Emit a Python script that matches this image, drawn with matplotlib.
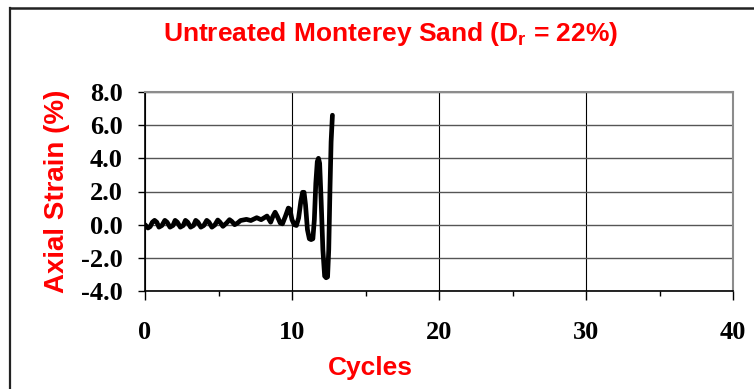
import matplotlib
matplotlib.use("Agg")
import matplotlib.pyplot as plt
from matplotlib.lines import Line2D
from matplotlib.ticker import MultipleLocator, FormatStrFormatter

cycles = [0.0, 0.2, 0.35, 0.5, 0.65, 0.8, 0.95, 1.15, 1.35, 1.5, 1.7, 1.9, 2.05, 2.2,
          2.4, 2.6, 2.75, 2.9, 3.1, 3.3, 3.45, 3.6, 3.8, 4.0, 4.2, 4.35, 4.55, 4.75,
          4.95, 5.1, 5.3, 5.55, 5.75, 5.9, 6.1, 6.3, 6.5, 6.9, 7.2, 7.6, 7.9, 8.3,
          8.55, 8.7, 8.85, 9.0, 9.2, 9.35, 9.55, 9.75, 9.85, 10.0, 10.15, 10.3, 10.45,
          10.6, 10.72, 10.82, 10.92, 11.05, 11.18, 11.3, 11.42, 11.52, 11.62, 11.72,
          11.8, 11.88, 11.98, 12.1, 12.22, 12.32, 12.42, 12.5, 12.58, 12.66, 12.75]
strain = [0.0, -0.2, -0.12, 0.15, 0.26, 0.15, -0.15, -0.05, 0.26, 0.15, -0.15, -0.05,
          0.26, 0.15, -0.15, -0.05, 0.26, 0.15, -0.15, -0.05, 0.26, 0.15, -0.15, -0.05,
          0.26, 0.15, -0.15, -0.02, 0.28, 0.15, -0.1, 0.1, 0.3, 0.2, 0.0, 0.1, 0.25,
          0.32, 0.25, 0.42, 0.3, 0.52, 0.15, 0.5, 0.75, 0.5, 0.1, 0.05, 0.5, 1.0, 0.95,
          0.3, 0.0, -0.05, 0.4, 1.4, 1.95, 1.95, 1.2, -0.3, -0.85, -0.9, -0.85, 0.3,
          2.5, 3.8, 4.0, 3.7, 1.5, -1.5, -3.1, -3.2, -3.15, -1.5, 2.0, 5.0, 6.6]

x_ticks = [0, 10, 20, 30, 40]
y_ticks = [-4.0, -2.0, 0.0, 2.0, 4.0, 6.0, 8.0]

W, H = 754, 389
fig = plt.figure(figsize=(W / 100, H / 100), dpi=100)
fig.patch.set_facecolor("white")

L, R, T, B = 145, 733, 92, 291
ax = fig.add_axes([L / W, 1 - B / H, (R - L) / W, (B - T) / H])

ax.plot(cycles, strain, color="black", lw=3.4, solid_joinstyle="round",
        solid_capstyle="round", zorder=3)

ax.set_xlim(0, 40)
ax.set_ylim(-4, 8)
ax.xaxis.set_minor_locator(MultipleLocator(5))
ax.set_xticks(x_ticks)
ax.set_yticks(y_ticks)
ax.yaxis.set_major_formatter(FormatStrFormatter("%.1f"))

ax.grid(axis="y", which="major", color="#555555", lw=1.0)
ax.grid(axis="x", which="major", color="black", lw=0.8)
ax.set_axisbelow(True)

for s in ["top", "right"]:
    ax.spines[s].set_color("#8c8c8c")
    ax.spines[s].set_linewidth(1.5)
for s in ["left", "bottom"]:
    ax.spines[s].set_color("black")
    ax.spines[s].set_linewidth(1.2)

ax.tick_params(axis="x", which="major", direction="out", length=6.5, width=1, pad=15)
ax.tick_params(axis="x", which="minor", direction="out", length=3.6, width=1)
ax.tick_params(axis="y", which="major", direction="out", length=5, width=1, pad=11)

for lab in ax.get_xticklabels() + ax.get_yticklabels():
    lab.set_fontfamily(["Liberation Serif", "DejaVu Serif"])
    lab.set_fontweight("bold")
    lab.set_fontsize(19)

red_font = ["Liberation Sans", "DejaVu Sans"]

fig.text(391 / W, 1 - 34 / H, r"Untreated Monterey Sand (D$_\mathregular{r}$ = 22%)",
         color="red", fontweight="bold", fontsize=19, family=red_font,
         ha="center", va="center")
fig.text(57 / W, 1 - 191 / H, "Axial Strain (%)", color="red", fontweight="bold",
         fontsize=20, family=red_font, rotation=90, ha="center", va="center")
fig.text(370 / W, 1 - 368 / H, "Cycles", color="red", fontweight="bold",
         fontsize=19, family=red_font, ha="center", va="center")

# chart border (left and top edges visible)
fig.add_artist(Line2D([9.5 / W, 9.5 / W], [0, 1 - 7.5 / H], transform=fig.transFigure,
                      color="#222222", lw=1.6))
fig.add_artist(Line2D([9.5 / W, 1], [1 - 7.5 / H, 1 - 7.5 / H], transform=fig.transFigure,
                      color="#222222", lw=1.8))

fig.savefig("out.png", dpi=100)
